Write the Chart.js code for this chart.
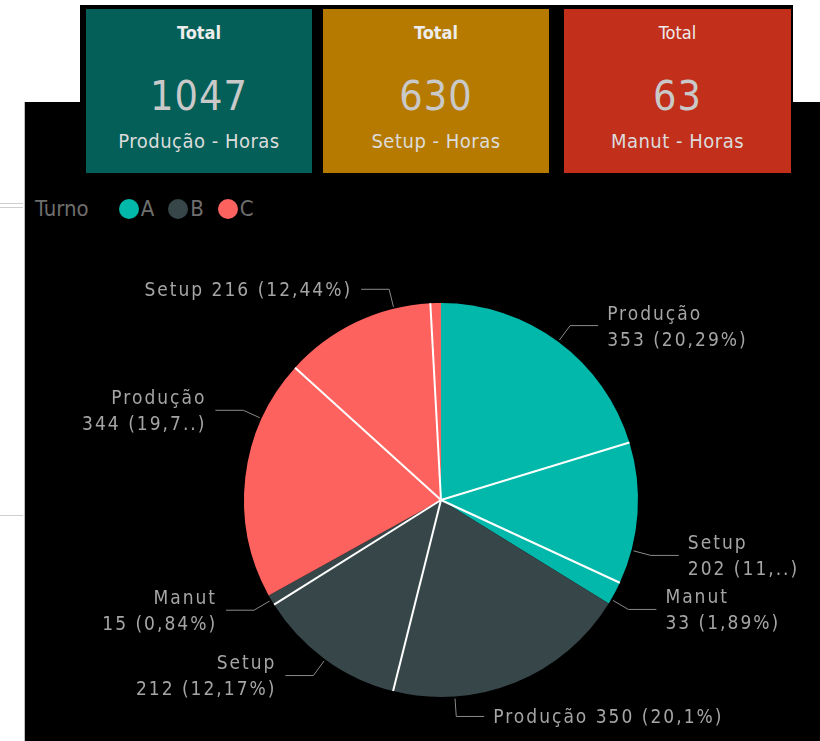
<!DOCTYPE html>
<html lang="pt">

<head>
    <meta charset="UTF-8">
    <title>Horas por turno</title>
    <style>
        body { margin: 0; width: 820px; height: 741px; background: #fff; position: relative; overflow: hidden;
               font-family: "DejaVu Sans Condensed", "Liberation Sans Narrow", "DejaVu Sans", sans-serif; }
        .faixa { position: absolute; left: 80px; top: 5px; width: 713px; height: 100px; background: #000; }
        .painel { position: absolute; left: 24px; top: 102px; width: 796px; height: 639px; background: #000;
                  border-left: 1px solid #bdbdbd; }
        .linha { position: absolute; left: 0; width: 23px; height: 1px; background: #cfcfcf; }
        .cartao { position: absolute; top: 9px; height: 164px; text-align: center; }
        .cartao .tit { position: absolute; left: 0; right: 0; top: 13px; font-size: 18px; font-weight: bold; color: #ececec; }
        .cartao .num { position: absolute; left: 0; right: 0; top: 63px; font-size: 41px; color: #c9c9c9; letter-spacing: 1px; }
        .cartao .sub { position: absolute; left: 0; right: 0; top: 120px; font-size: 20px; color: #dcdcdc; letter-spacing: 0.5px; }
        .legenda { position: absolute; left: 35px; top: 196px; font-size: 22px; color: #6e6e6e; display: flex; align-items: center; }
        .legenda .item { display: flex; align-items: center; margin-left: 14px; }
        .legenda .bola { width: 20px; height: 20px; border-radius: 50%; margin-right: 2px; }
        #box { position: absolute; left: 0; top: 0; width: 820px; height: 741px; }
    </style>
</head>

<body>
    <div class="linha" style="top: 203px;"></div>
    <div class="linha" style="top: 207px;"></div>
    <div class="linha" style="top: 515px;"></div>
    <div class="painel"></div>
    <div class="faixa"></div>
    <div id="cartoes"></div>
    <div class="legenda" id="legenda"></div>
    <div id="box">
        <canvas id="myChart"></canvas>
    </div>

    <script src="https://cdn.jsdelivr.net/npm/chart.js"></script>
    <script>
        const turnos = ["A", "B", "C"];
        const categorias = ["Produção", "Setup", "Manut"];
        const horasA = [353, 202, 33];
        const horasB = [350, 212, 15];
        const horasC = [344, 216, 15];
        const percA = ["20,29%", "11,..", "1,89%"];
        const percB = ["20,1%", "12,17%", "0,84%"];
        const percC = ["19,7..", "12,44%", ""];

        const coresTurno = ["#01B8AA", "#374649", "#FD625E"];
        const coresCartao = ["#035F57", "#B77A00", "#C2301C"];

        let v_series = [horasA, horasB, horasC];
        let v_percs = [percA, percB, percC];

        // cartões de total
        let v_cartoes = document.getElementById("cartoes");
        let v_lefts = [86, 323, 564];
        for (let k = 0; k < categorias.length; k++) {
            let v_total = 0;
            for (let i = 0; i < v_series.length; i++) v_total += v_series[i][k];
            let v_div = document.createElement("div");
            v_div.className = "cartao";
            v_div.style.left = v_lefts[k] + "px";
            v_div.style.width = (k == 2 ? 227 : 226) + "px";
            v_div.style.background = coresCartao[k];
            v_div.innerHTML = '<div class="tit"' + (k == 2 ? ' style="font-weight:normal"' : '') + '>Total</div>' +
                '<div class="num">' + v_total + '</div>' +
                '<div class="sub">' + categorias[k] + ' - Horas</div>';
            v_cartoes.appendChild(v_div);
        }

        // legenda
        let v_leg = document.getElementById("legenda");
        v_leg.innerHTML = '<span style="margin-right:16px">Turno</span>';
        for (let i = 0; i < turnos.length; i++) {
            v_leg.innerHTML += '<span class="item"><span class="bola" style="background:' + coresTurno[i] + '"></span>' + turnos[i] + '</span>';
        }

        let v_labels = [];
        let v_data = [];
        let v_cores = [];
        let v_textos = [];
        for (let i = 0; i < turnos.length; i++) {
            for (let k = 0; k < categorias.length; k++) {
                v_labels.push(turnos[i] + " " + categorias[k]);
                v_data.push(v_series[i][k]);
                v_cores.push(coresTurno[i]);
                v_textos.push(v_percs[i][k] ? [categorias[k], v_series[i][k] + " (" + v_percs[i][k] + ")"] : null);
            }
        }

        // onde cada rótulo sai da fatia (fração do ângulo) e quais ficam numa linha só
        const ancoras = [0.5, 0.76, 0.8, 0.75, 0.5, 0.5, 0.75, 0.76, 0.5];
        const umaLinha = [3, 7];

        const rotulos = {
            id: "rotulos",
            afterDatasetsDraw(chart) {
                const ctx = chart.ctx;
                const arcs = chart.getDatasetMeta(0).data;
                ctx.save();

                // separadores brancos (depois de Produção e Setup)
                ctx.strokeStyle = "#ffffff";
                ctx.lineWidth = 2;
                arcs.forEach((arc, i) => {
                    if (i % 3 == 2) return;
                    const p = arc.getProps(["x", "y", "endAngle", "outerRadius"], true);
                    ctx.beginPath();
                    ctx.moveTo(p.x, p.y);
                    ctx.lineTo(p.x + p.outerRadius * Math.cos(p.endAngle), p.y + p.outerRadius * Math.sin(p.endAngle));
                    ctx.stroke();
                });

                ctx.font = '19px "DejaVu Sans Condensed", "Liberation Sans Narrow", sans-serif';
                ctx.letterSpacing = "2px";
                ctx.fillStyle = "#a5a5a5";
                ctx.textBaseline = "middle";
                arcs.forEach((arc, i) => {
                    if (!v_textos[i]) return;
                    const p = arc.getProps(["x", "y", "startAngle", "endAngle", "outerRadius"], true);
                    const a = p.startAngle + ancoras[i] * (p.endAngle - p.startAngle);
                    const c = Math.cos(a), s = Math.sin(a);
                    const x1 = p.x + (p.outerRadius + 2) * c, y1 = p.y + (p.outerRadius + 2) * s;
                    const x2 = p.x + (p.outerRadius + 20) * c, y2 = p.y + (p.outerRadius + 20) * s;
                    const dir = c >= 0 ? 1 : -1;
                    const x3 = x2 + dir * 28;
                    ctx.strokeStyle = "#8a8a8a";
                    ctx.lineWidth = 1;
                    ctx.beginPath();
                    ctx.moveTo(x1, y1);
                    ctx.lineTo(x2, y2);
                    ctx.lineTo(x3, y2);
                    ctx.stroke();

                    let linhas = v_textos[i];
                    if (umaLinha.includes(i)) linhas = [linhas.join(" ")];
                    ctx.textAlign = dir > 0 ? "left" : "right";
                    const lh = 26;
                    const y0 = y2 + 2 - (linhas.length - 1) * lh / 2;
                    linhas.forEach((t, j) => ctx.fillText(t, x3 + dir * 9, y0 + j * lh));
                });
                ctx.restore();
            }
        };

        const ctx = document.getElementById("myChart");
        new Chart(ctx, {
            type: "pie",
            data: {
                labels: v_labels,
                datasets: [{
                    data: v_data,
                    backgroundColor: v_cores,
                    borderWidth: 0
                }]
            },
            options: {
                responsive: true,
                maintainAspectRatio: false,
                animation: false,
                events: [],
                layout: {
                    padding: { left: 244, right: 182, top: 303, bottom: 44 }
                },
                plugins: {
                    legend: { display: false },
                    tooltip: { enabled: false }
                }
            },
            plugins: [rotulos]
        });
    </script>
</body>

</html>
